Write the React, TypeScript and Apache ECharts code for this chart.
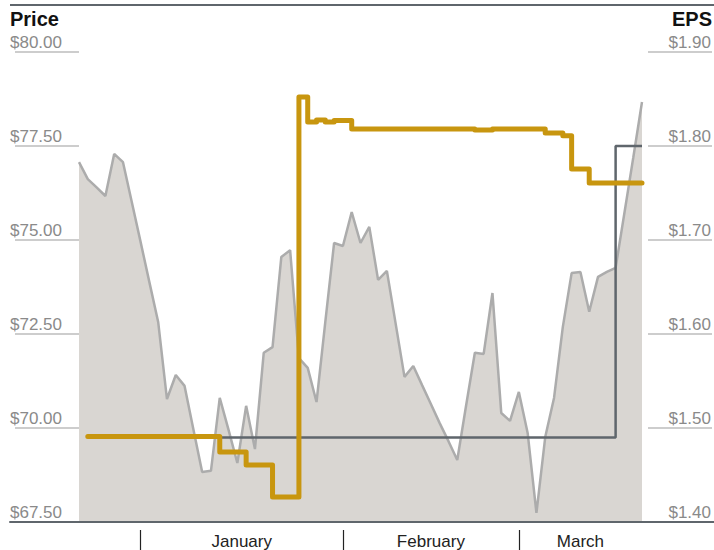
import React, { useEffect, useRef } from "react";
import * as echarts from "echarts";

// Trading-day index (0..64) on the x axis
const priceValues: number[] = [
  77.07, 76.62, 76.40, 76.17, 77.29, 77.07, 76.01, 74.95, 73.88, 72.82,
  70.77, 71.41, 71.12, 69.97, 68.83, 68.86, 70.80, 69.95, 69.07, 70.59,
  69.44, 72.00, 72.15, 74.55, 74.73, 71.86, 71.60, 70.69, 72.82, 74.92,
  74.84, 75.74, 74.92, 75.35, 73.94, 74.18, 72.77, 71.36, 71.65, 71.14,
  70.64, 70.13, 69.65, 69.15, 70.59, 72.00, 71.97, 73.59, 70.40, 70.19,
  70.96, 69.87, 67.74, 69.76, 70.80, 72.69, 74.12, 74.15, 73.09, 74.02,
  74.15, 74.26, 75.72, 77.18, 78.67,
];

// Reported EPS: day index where each level starts, and the level
const epsDays: number[] = [1, 61, 64];
const epsValues: number[] = [1.49, 1.80, 1.80];

// EPS estimate: day index where each level starts, and the level
const estDays: number[] = [1, 16, 19, 22, 25, 26, 27, 28, 29, 31, 45, 47, 53, 55, 56, 58, 64];
const estValues: number[] = [
  1.491, 1.4745, 1.4606, 1.4266, 1.852, 1.8255, 1.8277, 1.8255, 1.827, 1.818,
  1.817, 1.818, 1.8138, 1.811, 1.7755, 1.7606, 1.7606,
];

const monthNames: string[] = ["January", "February", "March"];
const monthStarts: number[] = [7, 30, 50];
const monthCenters: number[] = [18.5, 40, 57];

const priceTicks = { min: 67.5, max: 80, interval: 2.5 };
const epsTicks = { min: 1.4, max: 1.9, interval: 0.1 };

const FONT = "'Liberation Sans', Arial, sans-serif";

export default function App() {
  const ref = useRef<HTMLDivElement>(null);

  useEffect(() => {
    if (!ref.current) return;
    const chart = echarts.init(ref.current, undefined, { renderer: "svg" });

    const labelFromDay: Record<number, string> = {};
    monthCenters.forEach((c, i) => (labelFromDay[c] = monthNames[i]));

    const option: any = {
      animation: false,
      backgroundColor: "#ffffff",
      textStyle: { fontFamily: FONT },
      title: [
        {
          text: "Price",
          left: 10,
          top: 9,
          padding: 0,
          textStyle: { fontFamily: FONT, fontSize: 20, lineHeight: 20, fontWeight: "bold", color: "#111" },
        },
        {
          text: "EPS",
          right: 2,
          top: 9,
          padding: 0,
          textStyle: { fontFamily: FONT, fontSize: 20, lineHeight: 20, fontWeight: "bold", color: "#111" },
        },
      ],
      graphic: [
        {
          type: "line",
          shape: { x1: 10, y1: 5, x2: 714, y2: 5 },
          style: { stroke: "#5f666c", lineWidth: 2 },
        },
      ],
      grid: [
        { left: 79, right: 70, top: 52, bottom: 28 },
        { left: 10, right: 0, top: 52, bottom: 28 },
      ],
      xAxis: [
        {
          type: "value",
          gridIndex: 0,
          min: 0,
          max: 64,
          offset: 8,
          splitLine: { show: false },
          axisLine: { show: false },
          axisTick: {
            show: true,
            customValues: monthStarts,
            length: 22,
            lineStyle: { color: "#222", width: 1.2 },
          },
          axisLabel: {
            show: true,
            customValues: monthCenters,
            formatter: (v: number) => labelFromDay[v] ?? "",
            margin: 3,
            verticalAlign: "top",
            fontSize: 17,
            color: "#222",
            fontFamily: FONT,
          },
        },
        {
          type: "value",
          gridIndex: 1,
          min: 0,
          max: 1,
          z: 10,
          splitLine: { show: false },
          axisTick: { show: false },
          axisLabel: { show: false },
          axisLine: { show: true, lineStyle: { color: "#5f666c", width: 2 } },
        },
      ],
      yAxis: [
        {
          type: "value",
          gridIndex: 0,
          position: "left",
          min: priceTicks.min,
          max: priceTicks.max,
          interval: priceTicks.interval,
          offset: 5,
          splitLine: { show: false },
          axisLine: { show: false },
          axisTick: { show: true, length: 64, lineStyle: { color: "#bcbcbc", width: 1.5 } },
          axisLabel: {
            formatter: (v: number) => "$" + v.toFixed(2),
            align: "left",
            verticalAlign: "bottom",
            margin: 64,
            fontSize: 17,
            lineHeight: 17,
            color: "#8a8a8a",
            fontFamily: FONT,
            showMinLabel: true,
            showMaxLabel: true,
            padding: [0, 0, 1, 0],
          },
        },
        {
          type: "value",
          gridIndex: 0,
          position: "right",
          min: epsTicks.min,
          max: epsTicks.max,
          interval: epsTicks.interval,
          offset: 6,
          splitLine: { show: false },
          axisLine: { show: false },
          axisTick: { show: true, length: 64, lineStyle: { color: "#bcbcbc", width: 1.5 } },
          axisLabel: {
            formatter: (v: number) => "$" + v.toFixed(2),
            align: "right",
            verticalAlign: "bottom",
            margin: 63,
            fontSize: 17,
            lineHeight: 17,
            color: "#8a8a8a",
            fontFamily: FONT,
            showMinLabel: true,
            showMaxLabel: true,
            padding: [0, 0, 1, 0],
          },
        },
        {
          type: "value",
          gridIndex: 1,
          show: false,
          min: 0,
          max: 1,
        },
      ],
      series: [
        {
          name: "Price",
          type: "line",
          xAxisIndex: 0,
          yAxisIndex: 0,
          data: priceValues.map((v, i) => [i, v]),
          symbol: "none",
          lineStyle: { color: "#acacac", width: 2.5 },
          areaStyle: { color: "#d9d6d2", opacity: 1, origin: "start" },
          z: 2,
        },
        {
          name: "EPS",
          type: "line",
          xAxisIndex: 0,
          yAxisIndex: 1,
          step: "end",
          data: epsDays.map((d, i) => [d, epsValues[i]]),
          symbol: "none",
          lineStyle: { color: "#5f666c", width: 2.5 },
          z: 3,
        },
        {
          name: "EPS estimate",
          type: "line",
          xAxisIndex: 0,
          yAxisIndex: 1,
          step: "end",
          data: estDays.map((d, i) => [d, estValues[i]]),
          symbol: "none",
          lineStyle: { color: "#c8960f", width: 5, join: "round", cap: "round" },
          z: 4,
        },
      ],
    };

    chart.setOption(option);
    return () => chart.dispose();
  }, []);

  return (
    <div
      ref={ref}
      style={{ position: "fixed", left: 0, top: 0, width: 714, height: 550 }}
    />
  );
}
